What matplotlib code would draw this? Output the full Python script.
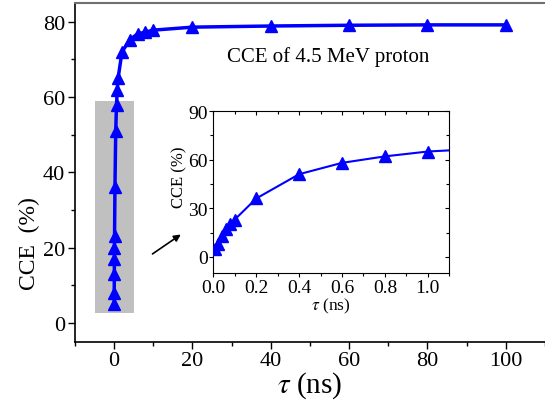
import matplotlib
matplotlib.use("Agg")
import matplotlib.pyplot as plt
from matplotlib.ticker import MultipleLocator
from matplotlib.patches import Rectangle

plt.rcParams['font.family'] = ['Liberation Serif', 'DejaVu Serif']
plt.rcParams['mathtext.fontset'] = 'stix'

# Data
tau_ns = [0.01, 0.02, 0.04, 0.06, 0.08, 0.1, 0.2, 0.4, 0.6, 0.8, 1.0,
          2, 4, 6, 8, 10, 20, 40, 60, 80, 100]
cce = [5, 8, 13, 17, 20, 23, 36, 51, 58, 62, 65,
       72, 75.3, 76.8, 77.3, 77.8, 78.6, 78.9, 79.1, 79.2, 79.2]

main_xticks = [0, 20, 40, 60, 80, 100]
main_yticks = [0, 20, 40, 60, 80]
inset_xticks = [0.0, 0.2, 0.4, 0.6, 0.8, 1.0]
inset_yticks = [0, 30, 60, 90]

blue = '#0000ff'

fig = plt.figure(figsize=(5.45, 4.06), dpi=100)
ax = fig.add_axes([0.1376, 0.156, 0.8624, 0.834])

ax.add_patch(Rectangle((-5, 2.5), 10, 56.5, facecolor='#c0c0c0', edgecolor='none', zorder=1))
ax.plot(tau_ns, cce, color=blue, lw=2.5, marker='^', ms=9, zorder=3, clip_on=False)

ax.set_xlim(-10, 110)
ax.set_ylim(-5, 85)
ax.set_xticks(main_xticks)
ax.set_yticks(main_yticks)
ax.xaxis.set_minor_locator(MultipleLocator(10))
ax.yaxis.set_minor_locator(MultipleLocator(10))
ax.tick_params(which='major', direction='out', length=5, width=1, labelsize=16, pad=2)
ax.tick_params(which='minor', direction='out', length=3, width=1)
ax.tick_params(top=False, right=False)
ax.spines['right'].set_visible(False)
ax.spines['top'].set_color('#707070')
ax.spines['top'].set_linewidth(1.5)
for s in ['left', 'bottom']:
    ax.spines[s].set_linewidth(1.2)

ax.set_xlabel(r'$\tau$ (ns)', fontsize=21, labelpad=-1)
ax.set_ylabel('CCE  (%)', fontsize=17)
ax.yaxis.set_label_coords(-0.074, 0.294)

fig.text(0.603, 0.8596, 'CCE of 4.5 MeV proton', fontsize=15, ha='center', va='center')

ax.annotate('', xy=(17.6, 23.9), xytext=(9.2, 17.9),
            arrowprops=dict(arrowstyle='-|>', color='black', lw=1.2, mutation_scale=10))

# Inset
ins = fig.add_axes([0.3914, 0.3251, 0.433, 0.399])
ins.plot(tau_ns, cce, color=blue, lw=1.5, marker='^', ms=9, zorder=3)
ins.set_xlim(0, 1.1)
ins.set_ylim(-10, 90)
ins.set_xticks(inset_xticks)
ins.set_xticklabels(['0.0', '0.2', '0.4', '0.6', '0.8', '1.0'])
ins.set_yticks(inset_yticks)
ins.xaxis.set_minor_locator(MultipleLocator(0.1))
ins.yaxis.set_minor_locator(MultipleLocator(15))
ins.tick_params(which='both', direction='out', labelsize=14, pad=1, width=0.8)
ins.tick_params(which='major', length=3)
ins.tick_params(which='minor', length=2)
ins.tick_params(which='both', top=True, right=True)
for t in ins.xaxis.get_major_ticks() + ins.xaxis.get_minor_ticks():
    t.tick2line.set_marker(3)
for t in ins.yaxis.get_major_ticks() + ins.yaxis.get_minor_ticks():
    t.tick2line.set_marker(0)
ins.set_xlabel(r'$\tau$ (ns)', fontsize=12.5, labelpad=0)
ins.set_ylabel('CCE (%)', fontsize=12, labelpad=0)
ins.yaxis.set_label_coords(-0.11, 0.6)

fig.savefig('out.png', dpi=100)
